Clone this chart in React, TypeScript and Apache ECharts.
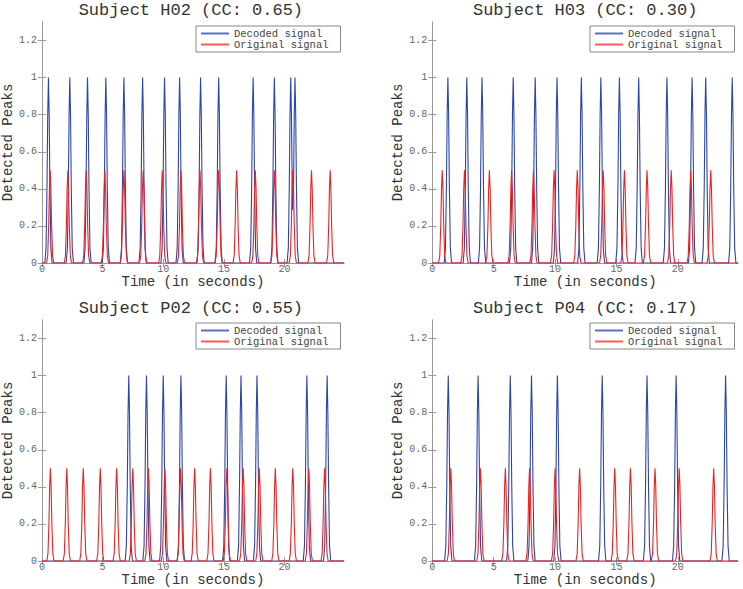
import React, { useEffect, useRef } from "react";
import * as echarts from "echarts";

const TITLES = [
  "Subject H02 (CC: 0.65)",
  "Subject H03 (CC: 0.30)",
  "Subject P02 (CC: 0.55)",
  "Subject P04 (CC: 0.17)",
];

// Peak times (seconds)
const DECODED_H02 = [0.54, 2.3, 3.76, 5.27, 6.76, 8.3, 10.11, 11.35, 13.08, 14.57, 17.41, 19.16, 20.51, 20.86];
const ORIGINAL_H02 = [0.68, 2.14, 3.65, 5.19, 6.76, 8.35, 9.92, 11.46, 13.03, 14.57, 16.05, 17.59, 19.16, 20.68, 22.22, 23.76];
const DECODED_H03 = [1.27, 2.81, 4.05, 6.59, 8.38, 10.16, 12.14, 13.73, 15.24, 16.81, 19.11, 21.16, 22.27, 24.43];
const ORIGINAL_H03 = [0.81, 2.62, 4.65, 6.46, 8.24, 9.92, 11.81, 13.92, 15.65, 17.49, 19.46, 21.05, 22.68];
const DECODED_P02 = [7.16, 8.62, 10.0, 11.46, 15.19, 16.41, 17.73, 21.84, 23.51];
const ORIGINAL_P02 = [0.7, 2.05, 3.41, 4.81, 6.16, 7.49, 8.78, 10.14, 11.43, 12.59, 13.89, 15.24, 16.59, 17.92, 19.24, 20.68, 22.0, 23.3];
const DECODED_P04 = [1.3, 3.73, 6.35, 8.08, 10.19, 13.84, 17.49, 19.86, 23.89];
const ORIGINAL_P04 = [1.51, 3.92, 5.95, 7.92, 10.0, 12.0, 14.86, 16.14, 18.14, 20.11, 22.92];

const DECODED = [DECODED_H02, DECODED_H03, DECODED_P02, DECODED_P04];
const ORIGINAL = [ORIGINAL_H02, ORIGINAL_H03, ORIGINAL_P02, ORIGINAL_P04];

const DECODED_HEIGHT = 1;
const ORIGINAL_HEIGHT = 0.5;

// Shape of a single detected peak (offset in seconds, relative height)
const PEAK_OFFSETS = [-0.3, -0.2, -0.12, -0.06, 0, 0.06, 0.12, 0.2, 0.3];
const PEAK_PROFILE = [0, 0.08, 0.41, 0.8, 1, 0.8, 0.41, 0.08, 0];

const X_MAX = 24.9;
const Y_MAX = 1.3;
const X_TICKS = [0, 5, 10, 15, 20];
const Y_TICKS = [0, 0.2, 0.4, 0.6, 0.8, 1, 1.2];

const SERIES_NAMES = ["Decoded signal", "Original signal"];

function kernel(d: number): number {
  const n = PEAK_OFFSETS.length;
  if (d <= PEAK_OFFSETS[0] || d >= PEAK_OFFSETS[n - 1]) return 0;
  for (let i = 0; i < n - 1; i++) {
    const a = PEAK_OFFSETS[i];
    const b = PEAK_OFFSETS[i + 1];
    if (d >= a && d <= b) {
      const f = (d - a) / (b - a);
      return PEAK_PROFILE[i] + f * (PEAK_PROFILE[i + 1] - PEAK_PROFILE[i]);
    }
  }
  return 0;
}

function buildCurve(peaks: number[], h: number): number[][] {
  const xs: number[] = [0, X_MAX];
  peaks.forEach((t) =>
    PEAK_OFFSETS.forEach((o) => {
      const x = t + o;
      if (x >= 0 && x <= X_MAX) xs.push(x);
    })
  );
  xs.sort((a, b) => a - b);
  return xs.map((x) => {
    let y = 0;
    peaks.forEach((t) => {
      y = Math.max(y, kernel(x - t));
    });
    return [x, y * h];
  });
}

const FONT = "Liberation Mono";

const GRIDS = [
  { left: 37.7, top: 22, width: 306.3, height: 241 },
  { left: 432.3, top: 22, width: 305.7, height: 241 },
  { left: 37.7, top: 320, width: 306.3, height: 241 },
  { left: 432.3, top: 320, width: 305.7, height: 241 },
];

const LEGEND_POS = [
  { left: 196, top: 26 },
  { left: 590, top: 26 },
  { left: 196, top: 323 },
  { left: 590, top: 323 },
];

export default function App() {
  const ref = useRef<HTMLDivElement>(null);
  useEffect(() => {
    document.body.style.margin = "0";
    if (!ref.current) return;
    const chart = echarts.init(ref.current, undefined, { renderer: "svg" });
    const axisLine = { show: true, lineStyle: { color: "#999", width: 1 } };
    const xAxis: any[] = [];
    const yAxis: any[] = [];
    const series: any[] = [];
    const title: any[] = [];
    const legend: any[] = [];
    GRIDS.forEach((g, i) => {
      title.push({
        text: TITLES[i],
        left: g.left + g.width / 2,
        top: g.top - 20,
        padding: 0,
        textAlign: "center",
        textStyle: { fontFamily: FONT, fontSize: 17, fontWeight: "normal", color: "#333" },
      });
      legend.push({
        ...LEGEND_POS[i],
        orient: "vertical",
        data: SERIES_NAMES,
        selectedMode: false,
        icon: "rect",
        itemWidth: 28,
        itemHeight: 2,
        itemGap: 0,
        padding: [2, 12, 2, 5],
        borderColor: "#888",
        borderWidth: 1,
        backgroundColor: "#fff",
        textStyle: { fontFamily: FONT, fontSize: 10.5, lineHeight: 10, color: "#444" },
      });
      xAxis.push({
        type: "value",
        gridIndex: i,
        min: 0,
        max: X_MAX,
        interval: 5,
        position: "bottom",
        name: "Time (in seconds)",
        nameLocation: "middle",
        nameGap: 12,
        nameTextStyle: { fontFamily: FONT, fontSize: 14, color: "#333" },
        axisLine,
        axisTick: { show: true, inside: true, length: 4, customValues: X_TICKS, lineStyle: { color: "#999" } },
        axisLabel: { show: true, customValues: X_TICKS, margin: 1, fontFamily: FONT, fontSize: 10, color: "#666" },
        splitLine: { show: false },
      });
      xAxis.push({
        type: "value",
        gridIndex: i,
        min: 0,
        max: X_MAX,
        interval: 5,
        position: "top",
        axisLine,
        axisTick: { show: true, inside: true, length: 4, customValues: X_TICKS, lineStyle: { color: "#999" } },
        axisLabel: { show: false },
        splitLine: { show: false },
      });
      yAxis.push({
        type: "value",
        gridIndex: i,
        min: 0,
        max: Y_MAX,
        interval: 0.2,
        position: "left",
        name: "Detected Peaks",
        nameLocation: "middle",
        nameGap: 14,
        nameTextStyle: { fontFamily: FONT, fontSize: 14, color: "#333" },
        axisLine,
        axisTick: { show: true, inside: true, length: 4, customValues: Y_TICKS, lineStyle: { color: "#999" } },
        axisLabel: { show: true, customValues: Y_TICKS, margin: 5, fontFamily: FONT, fontSize: 10, color: "#666" },
        splitLine: { show: false },
      });
      yAxis.push({
        type: "value",
        gridIndex: i,
        min: 0,
        max: Y_MAX,
        interval: 0.2,
        position: "right",
        axisLine,
        axisTick: { show: true, inside: true, length: 4, customValues: Y_TICKS, lineStyle: { color: "#999" } },
        axisLabel: { show: false },
        splitLine: { show: false },
      });
      series.push({
        name: SERIES_NAMES[0],
        type: "line",
        xAxisIndex: i * 2,
        yAxisIndex: i * 2,
        showSymbol: false,
        symbol: "none",
        lineStyle: { color: "#2c45a8", width: 1.1 },
        itemStyle: { color: "#5a70c4" },
        data: buildCurve(DECODED[i], DECODED_HEIGHT),
      });
      series.push({
        name: SERIES_NAMES[1],
        type: "line",
        xAxisIndex: i * 2,
        yAxisIndex: i * 2,
        showSymbol: false,
        symbol: "none",
        lineStyle: { color: "#f02020", width: 1.1 },
        itemStyle: { color: "#ff5a5a" },
        data: buildCurve(ORIGINAL[i], ORIGINAL_HEIGHT),
      });
    });
    chart.setOption({
      animation: false,
      backgroundColor: "#fff",
      title,
      legend,
      grid: GRIDS.map((g) => ({ ...g, containLabel: false })),
      xAxis,
      yAxis,
      series,
    });
    return () => chart.dispose();
  }, []);
  return <div ref={ref} style={{ width: 743, height: 589 }} />;
}
